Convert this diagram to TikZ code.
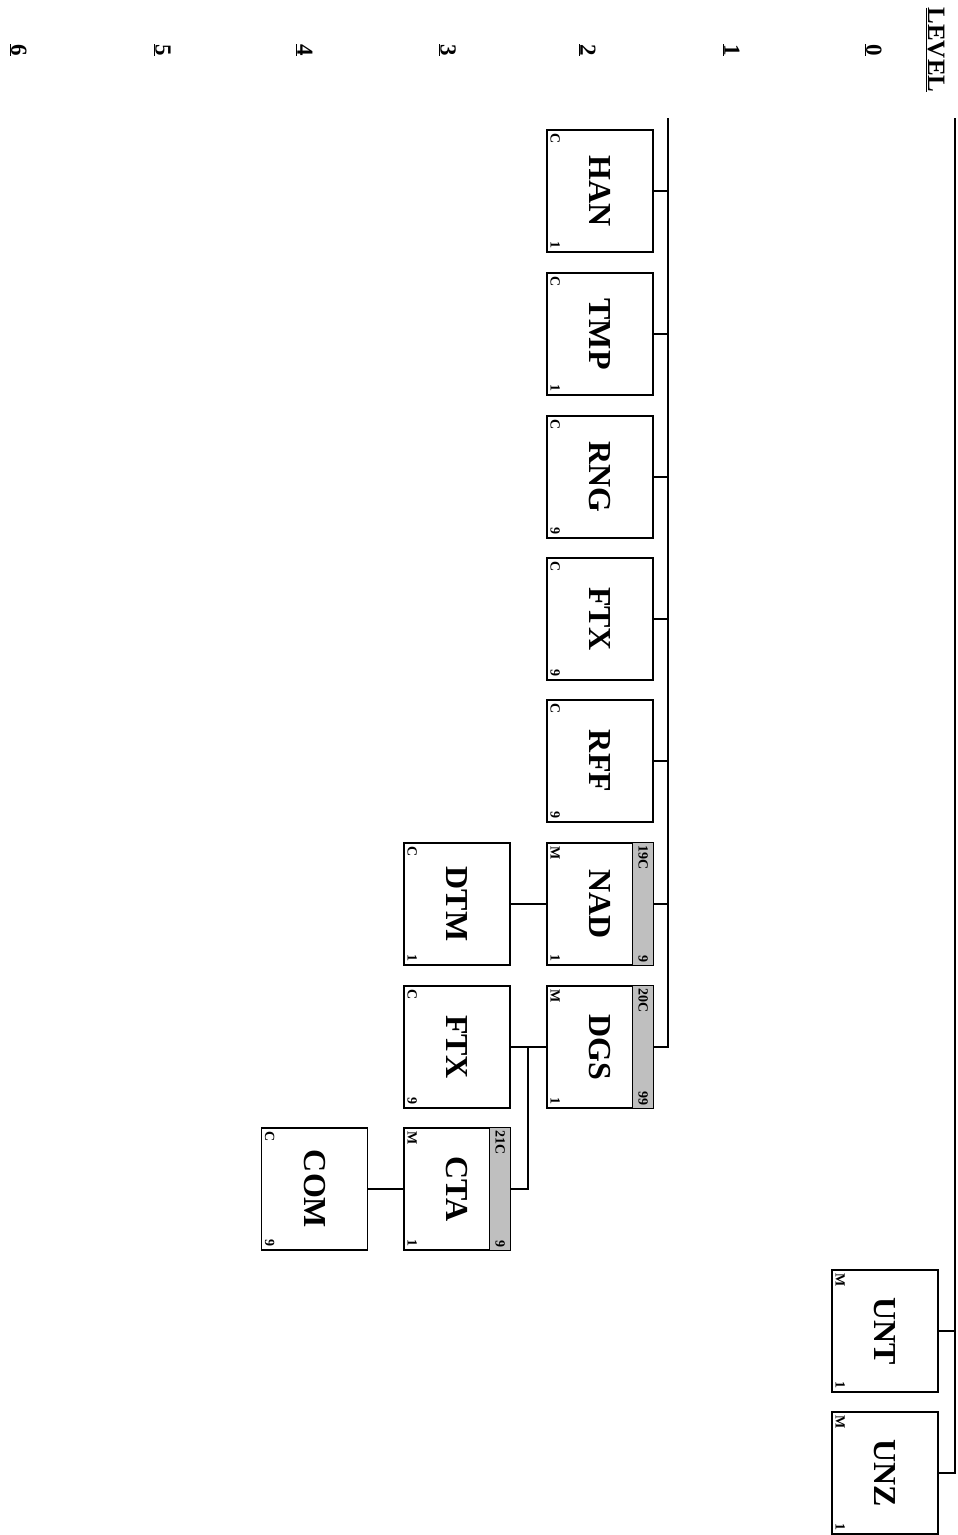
\documentclass[tikz,border=0pt]{standalone}
\usepackage{fontspec}
\setmainfont{Liberation Serif}
\newfontfamily\tms{Liberation Serif}
\usetikzlibrary{calc}
\tikzset{
  treebox/.style={draw, line width=1.3pt, minimum width=106pt, minimum height=122pt, inner sep=0pt, fill=white},
  boxtitle/.style={rotate=-90, inner sep=0pt, font=\tms\bfseries\fontsize{32}{32}\selectfont},
  corner/.style={rotate=-90, inner sep=0pt, font=\tms\bfseries\fontsize{14}{14}\selectfont},
  lvl/.style={rotate=-90, inner sep=0pt, font=\tms\bfseries\fontsize{23}{23}\selectfont},
  wire/.style={line width=1.3pt}
}
\newcommand\drawbox[6]{%
  \node[treebox] (#1) at (#2,#3) {};
  \node[boxtitle] (#1-t) at (#1.center) {#4};
  \node[corner, anchor=south west] (#1-a) at ($(#1.north west)+(4,4)$) {#5};
  \node[corner, anchor=south east] (#1-b) at ($(#1.south west)+(4,-4)$) {#6};
}
\newcommand\drawstrip[3]{%
  \fill[gray!50] ($(#1.north east)+(-21,0)$) rectangle (#1.south east);
  \draw[wire] ($(#1.north east)+(-21,0)$) -- ($(#1.south east)+(-21,0)$);
  \draw[wire] (#1.north west) rectangle (#1.south east);
  \node[corner, anchor=west] (#1-c) at ($(#1.north east)+(-10.5,3)$) {#2};
  \node[corner, anchor=east] (#1-d) at ($(#1.south east)+(-10.5,-3)$) {#3};
}
\begin{document}
\begin{tikzpicture}[x=1pt,y=-1pt]
\useasboundingbox (0,0) rectangle (958,1535);
% level header
\node[lvl, font=\tms\bfseries\fontsize{25}{25}\selectfont] (LEVEL) at (935,50) {\underline{LEVEL}};
\node[lvl] (L0) at (873,50) {\underline{0}};
\node[lvl] (L1) at (731,50) {\underline{1}};
\node[lvl] (L2) at (587,50) {\underline{2}};
\node[lvl] (L3) at (447,50) {\underline{3}};
\node[lvl] (L4) at (304,50) {\underline{4}};
\node[lvl] (L5) at (162,50) {\underline{5}};
\node[lvl] (L6) at (18,50) {\underline{6}};
% boxes
\drawbox{HAN}{600}{191}{HAN}{C}{1}
\drawbox{TMP}{600}{334}{TMP}{C}{1}
\drawbox{RNG}{600}{477}{RNG}{C}{9}
\drawbox{FTXa}{600}{619}{FTX}{C}{9}
\drawbox{RFF}{600}{761}{RFF}{C}{9}
\drawbox{NAD}{600}{904}{NAD}{M}{1}
\drawstrip{NAD}{19C}{9}
\drawbox{DGS}{600}{1047}{DGS}{M}{1}
\drawstrip{DGS}{20C}{99}
\drawbox{DTM}{457}{904}{DTM}{C}{1}
\drawbox{FTXb}{457}{1047}{FTX}{C}{9}
\drawbox{CTA}{457}{1189}{CTA}{M}{1}
\drawstrip{CTA}{21C}{9}
\drawbox{COM}{314.5}{1189}{COM}{C}{9}
\drawbox{UNT}{885}{1331}{UNT}{M}{1}
\drawbox{UNZ}{885}{1473}{UNZ}{M}{1}
% connectors
\coordinate (top2) at (668,118);
\coordinate (top0) at (955,118);
\coordinate (jn) at (528,1047);
\draw[wire] (top2) |- (DGS.east);
\foreach \n in {HAN,TMP,RNG,FTXa,RFF,NAD} \draw[wire] (\n.east) -- (\n.east -| top2);
\draw[wire] (top0) |- (UNZ.east);
\draw[wire] (UNT.east) -- (UNT.east -| top0);
\draw[wire] (NAD.west) -- (DTM.east);
\draw[wire] (DGS.west) -- (FTXb.east);
\draw[wire] (jn) |- (CTA.east);
\draw[wire] (CTA.west) -- (COM.east);
\end{tikzpicture}
\end{document}
